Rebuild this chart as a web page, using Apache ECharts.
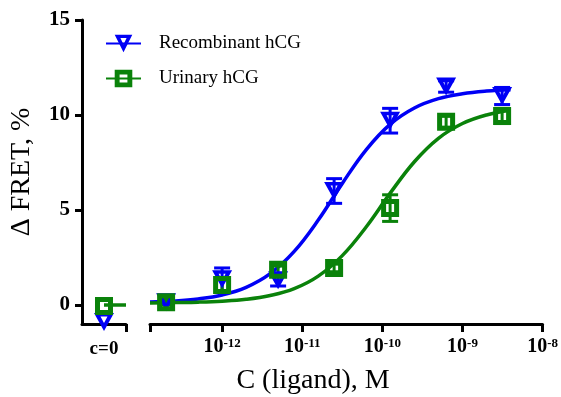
<!DOCTYPE html>
<html>
<head>
<meta charset="utf-8">
<script src="https://cdn.jsdelivr.net/npm/echarts@6/dist/echarts.min.js"></script>
<style>
  html, body { margin: 0; padding: 0; background: #fff; }
  #chart { width: 561px; height: 397px; }
</style>
</head>
<body>
<div id="chart"></div>
<script>
// measured points (concentration in M, mean and error in % dFRET)
const concs = [2e-13, 1e-12, 5e-12, 2.5e-11, 1.25e-10, 6.25e-10, 3.125e-9];
const recombMean = [0.15, 1.35, 1.3, 6.0, 9.7, 11.5, 11.0];
const recombErr = [0.1, 0.6, 0.3, 0.65, 0.65, 0.3, 0.45];
const urinaryMean = [0.15, 1.05, 1.85, 1.95, 5.1, 9.65, 9.95];
const urinaryErr = [0.15, 0.3, 0.2, 0.2, 0.7, 0.3, 0.4];

// c=0 points
const zeroRecomb = [-0.9];
const zeroUrinary = [-0.05];
const zeroLineX = [0.5, 1.0];
const zeroLineY = [0, 0];

// fitted curves (log10 of concentration)
const fitLogC = [-12.9, -12.6, -12.3, -12.0, -11.7, -11.4, -11.1, -10.8, -10.5, -10.2, -9.9, -9.6, -9.3, -9.0, -8.7, -8.4];
const recombFit = [0.16, 0.21, 0.32, 0.53, 0.93, 1.65, 2.82, 4.47, 6.40, 8.18, 9.52, 10.37, 10.86, 11.12, 11.26, 11.33];
const urinaryFit = [0.11, 0.13, 0.15, 0.2, 0.3, 0.5, 0.86, 1.52, 2.6, 4.12, 5.9, 7.54, 8.77, 9.55, 10.0, 10.25];

const logTicks = [-12, -11, -10, -9, -8];
const yTicks = [0, 5, 10, 15];

const BLUE = '#0000f5';
const GREEN = '#0a820a';
const FONT = 'Liberation Serif';

// hollow markers as paths (outer ring with a hole)
const triPath = 'path://M0,0L20,0L10,18Z M6.5,3.5L10,10L13.5,3.5Z';
const sqPath = 'path://M0,0L18,0L18,18L0,18Z M5,5L5,13L13,13L13,5Z';

const lg = v => Math.log10(v);

function errBars(color) {
  return function (params, api) {
    const x = api.value(0);
    const top = api.coord([x, api.value(2)]);
    const bot = api.coord([x, api.value(1)]);
    const w = 8;
    const st = { stroke: color, lineWidth: 3 };
    return {
      type: 'group',
      children: [
        { type: 'line', shape: { x1: top[0], y1: top[1], x2: bot[0], y2: bot[1] }, style: st },
        { type: 'line', shape: { x1: top[0] - w, y1: top[1], x2: top[0] + w, y2: top[1] }, style: st },
        { type: 'line', shape: { x1: bot[0] - w, y1: bot[1], x2: bot[0] + w, y2: bot[1] }, style: st }
      ]
    };
  };
}

const chart = echarts.init(document.getElementById('chart'));

const axisLine = { lineStyle: { color: '#000', width: 3 } };
const tickStyle = { lineStyle: { color: '#000', width: 3 } };

const option = {
  animation: false,
  grid: [
    { left: 82, top: 20, width: 44, bottom: 73 },
    { left: 150, top: 20, right: 18, bottom: 73 }
  ],
  legend: {
    orient: 'vertical',
    left: 100,
    top: 29,
    itemWidth: 35,
    itemHeight: 22,
    itemGap: 16,
    data: ['Recombinant hCG', 'Urinary hCG'],
    textStyle: { fontFamily: FONT, fontSize: 19, color: '#000', padding: [0, 0, 0, 13] }
  },
  xAxis: [
    {
      gridIndex: 0, type: 'value', min: 0, max: 1,
      axisLine: { onZero: false, ...axisLine },
      splitLine: { show: false },
      axisTick: { customValues: [1], length: 8, ...tickStyle },
      axisLabel: {
        customValues: [0.5], margin: 16, formatter: () => 'c=0',
        fontFamily: FONT, fontWeight: 'bold', fontSize: 19, color: '#000'
      }
    },
    {
      gridIndex: 1, type: 'value', min: -12.9, max: -8,
      axisLine: { onZero: false, ...axisLine },
      splitLine: { show: false },
      axisTick: { customValues: [-12.9].concat(logTicks), length: 8, ...tickStyle },
      axisLabel: {
        customValues: logTicks, margin: 13,
        formatter: v => '{b|10}{s|' + v + '}',
        rich: {
          b: { fontFamily: FONT, fontWeight: 'bold', fontSize: 20, color: '#000' },
          s: { fontFamily: FONT, fontWeight: 'bold', fontSize: 13, color: '#000', verticalAlign: 'top' }
        }
      }
    }
  ],
  yAxis: [
    {
      gridIndex: 0, type: 'value', min: -1, max: 15,
      name: 'Δ FRET, %', nameLocation: 'middle', nameGap: 46,
      nameTextStyle: { fontFamily: FONT, fontSize: 28, color: '#000' },
      axisLine: { onZero: false, ...axisLine },
      splitLine: { show: false },
      axisTick: { customValues: yTicks, length: 7, ...tickStyle },
      axisLabel: {
        customValues: yTicks, margin: 12,
        fontFamily: FONT, fontWeight: 'bold', fontSize: 21, color: '#000'
      }
    },
    {
      gridIndex: 1, type: 'value', min: -1, max: 15, show: false
    }
  ],
  graphic: [
    {
      type: 'text', x: 313, y: 381,
      style: {
        text: 'C (ligand), M', fontFamily: FONT, fontSize: 28, fill: '#000',
        align: 'center', verticalAlign: 'middle'
      }
    }
  ],
  series: [
    {
      name: 'Recombinant hCG', type: 'line', xAxisIndex: 1, yAxisIndex: 1,
      data: fitLogC.map((x, i) => [x, recombFit[i]]),
      smooth: 0.4, showSymbol: false, symbol: triPath, z: 2,
      itemStyle: { color: BLUE }, lineStyle: { color: BLUE, width: 3.5 }
    },
    {
      name: 'Urinary hCG', type: 'line', xAxisIndex: 1, yAxisIndex: 1,
      data: fitLogC.map((x, i) => [x, urinaryFit[i]]),
      smooth: 0.4, showSymbol: false, symbol: sqPath, z: 2,
      itemStyle: { color: GREEN }, lineStyle: { color: GREEN, width: 3.5 }
    },
    {
      name: 'Urinary hCG', type: 'line', xAxisIndex: 0, yAxisIndex: 0,
      data: zeroLineX.map((x, i) => [x, zeroLineY[i]]),
      showSymbol: false, clip: false, z: 2,
      lineStyle: { color: GREEN, width: 3.5 }
    },
    {
      name: 'Recombinant hCG', type: 'custom', xAxisIndex: 1, yAxisIndex: 1,
      renderItem: errBars(BLUE), z: 3,
      data: concs.map((c, i) => [lg(c), recombMean[i] - recombErr[i], recombMean[i] + recombErr[i]])
    },
    {
      name: 'Urinary hCG', type: 'custom', xAxisIndex: 1, yAxisIndex: 1,
      renderItem: errBars(GREEN), z: 3,
      data: concs.map((c, i) => [lg(c), urinaryMean[i] - urinaryErr[i], urinaryMean[i] + urinaryErr[i]])
    },
    {
      name: 'Recombinant hCG', type: 'scatter', xAxisIndex: 1, yAxisIndex: 1,
      symbol: triPath, symbolSize: [20, 18], z: 4,
      itemStyle: { color: BLUE, opacity: 1 },
      data: concs.map((c, i) => [lg(c), recombMean[i]])
    },
    {
      name: 'Urinary hCG', type: 'scatter', xAxisIndex: 1, yAxisIndex: 1,
      symbol: sqPath, symbolSize: [18, 18], z: 5,
      itemStyle: { color: GREEN, opacity: 1 },
      data: concs.map((c, i) => [lg(c), urinaryMean[i]])
    },
    {
      name: 'Recombinant hCG', type: 'scatter', xAxisIndex: 0, yAxisIndex: 0,
      symbol: triPath, symbolSize: [20, 18], z: 4, clip: false,
      itemStyle: { color: BLUE, opacity: 1 },
      data: zeroRecomb.map(v => [0.5, v])
    },
    {
      name: 'Urinary hCG', type: 'scatter', xAxisIndex: 0, yAxisIndex: 0,
      symbol: sqPath, symbolSize: [18, 18], z: 5, clip: false,
      itemStyle: { color: GREEN, opacity: 1 },
      data: zeroUrinary.map(v => [0.5, v])
    }
  ]
};

chart.setOption(option);
</script>
</body>
</html>
